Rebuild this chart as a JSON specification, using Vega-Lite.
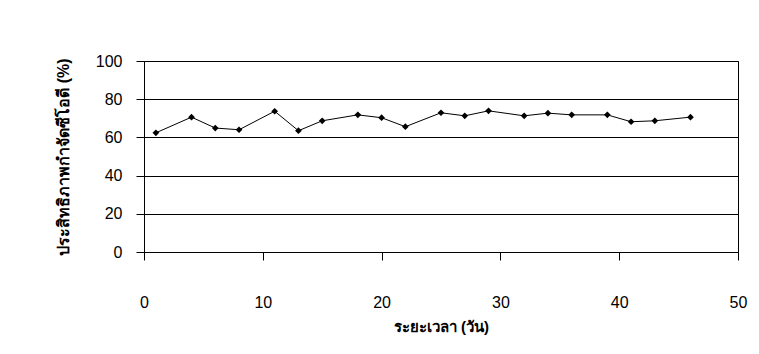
{
  "$schema": "https://vega.github.io/schema/vega-lite/v6.json",
  "autosize": {"type": "none"},
  "width": 594,
  "height": 191,
  "padding": {"left": 144, "top": 61, "right": 21, "bottom": 102},
  "background": "white",
  "config": {
    "view": {"stroke": "black", "strokeWidth": 1},
    "axis": {
      "labelFont": "Liberation Sans",
      "labelColor": "black",
      "domainColor": "black",
      "tickColor": "black",
      "titleColor": "black",
      "titleFont": "Liberation Sans"
    }
  },
  "data": {
    "values": [
      {"day": 1, "eff": 62.4},
      {"day": 4, "eff": 70.6},
      {"day": 6, "eff": 64.9},
      {"day": 8, "eff": 64.0},
      {"day": 11, "eff": 73.7},
      {"day": 13, "eff": 63.5},
      {"day": 15, "eff": 68.7},
      {"day": 18, "eff": 71.8},
      {"day": 20, "eff": 70.3},
      {"day": 22, "eff": 65.6},
      {"day": 25, "eff": 72.9},
      {"day": 27, "eff": 71.3},
      {"day": 29, "eff": 73.9},
      {"day": 32, "eff": 71.3},
      {"day": 34, "eff": 72.7},
      {"day": 36, "eff": 71.8},
      {"day": 39, "eff": 71.8},
      {"day": 41, "eff": 68.2},
      {"day": 43, "eff": 68.7},
      {"day": 46, "eff": 70.6}
    ]
  },
  "encoding": {
    "x": {
      "field": "day",
      "type": "quantitative",
      "scale": {"domain": [0, 50], "nice": false, "zero": false},
      "axis": {
        "values": [0, 10, 20, 30, 40, 50],
        "grid": false,
        "tickSize": 8,
        "labelPadding": 34,
        "labelFontSize": 16,
        "labelFlush": false,
        "title": "ระยะเวลา (วัน)",
        "titleFontSize": 15,
        "titleFontWeight": "bold",
        "titlePadding": 9
      }
    },
    "y": {
      "field": "eff",
      "type": "quantitative",
      "scale": {"domain": [0, 100], "nice": false},
      "axis": {
        "values": [0, 20, 40, 60, 80, 100],
        "grid": true,
        "gridColor": "black",
        "gridOpacity": 1,
        "tickSize": 8,
        "labelPadding": 14,
        "labelFontSize": 16,
        "title": "ประสิทธิภาพกำจัดซีโอดี (%)",
        "titleFontSize": 16,
        "titleFontWeight": "bold",
        "titlePadding": 24
      }
    }
  },
  "layer": [
    {"mark": {"type": "line", "color": "black", "strokeWidth": 1}},
    {"mark": {"type": "point", "shape": "diamond", "filled": true, "color": "black", "size": 45, "opacity": 1}}
  ]
}
